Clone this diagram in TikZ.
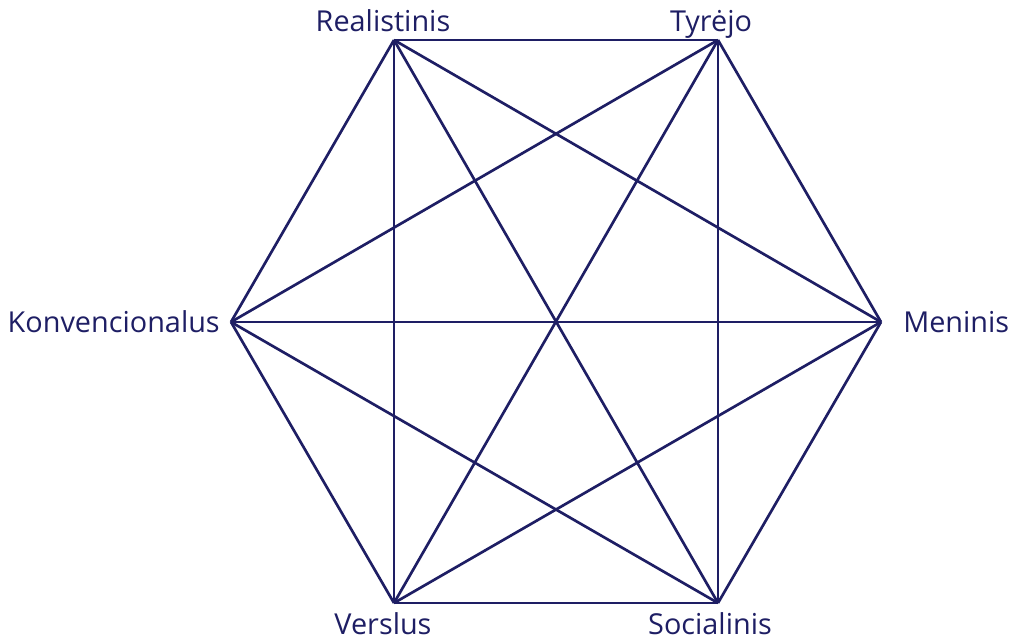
\documentclass[tikz,border=0pt]{standalone}
\usepackage{fontspec}
\setmainfont{Open Sans}
\usepackage{tikz}
\usetikzlibrary{positioning}
\definecolor{hexline}{RGB}{30,30,100}
\tikzset{
  edge/.style={hexline, line width=1.9pt},
  lbl/.style={text=hexline, font=\fontsize{20.5}{22}\selectfont, inner sep=0pt}
}
\begin{document}
\begin{tikzpicture}[x=0.025cm, y=-0.025cm]
  \useasboundingbox (0,0) rectangle (1009,640);

  % hexagon corners
  \coordinate (R) at (394,40);
  \coordinate (T) at (718,40);
  \coordinate (M) at (881,322);
  \coordinate (S) at (718,603);
  \coordinate (V) at (394,603);
  \coordinate (K) at (231,322);

  % every pair joined
  \foreach \a/\b in {R/T,R/M,R/S,R/V,R/K,T/M,T/S,T/V,T/K,M/S,M/V,M/K,S/V,S/K,V/K}
    \draw[edge, line join=miter] (\a) -- (\b);

  % labels
  \node[lbl, anchor=base] (realistinis) at (383,31) {Realistinis};
  \node[lbl, anchor=base] (tyrejo) at (711,31) {Tyrėjo};
  \node[lbl, anchor=east] (konvencionalus) at (220,322) {Konvencionalus};
  \node[lbl, anchor=west] (meninis) at (903,322) {Meninis};
  \node[lbl, anchor=base] (verslus) at (383,634) {Verslus};
  \node[lbl, anchor=base] (socialinis) at (710,634) {Socialinis};
\end{tikzpicture}
\end{document}
